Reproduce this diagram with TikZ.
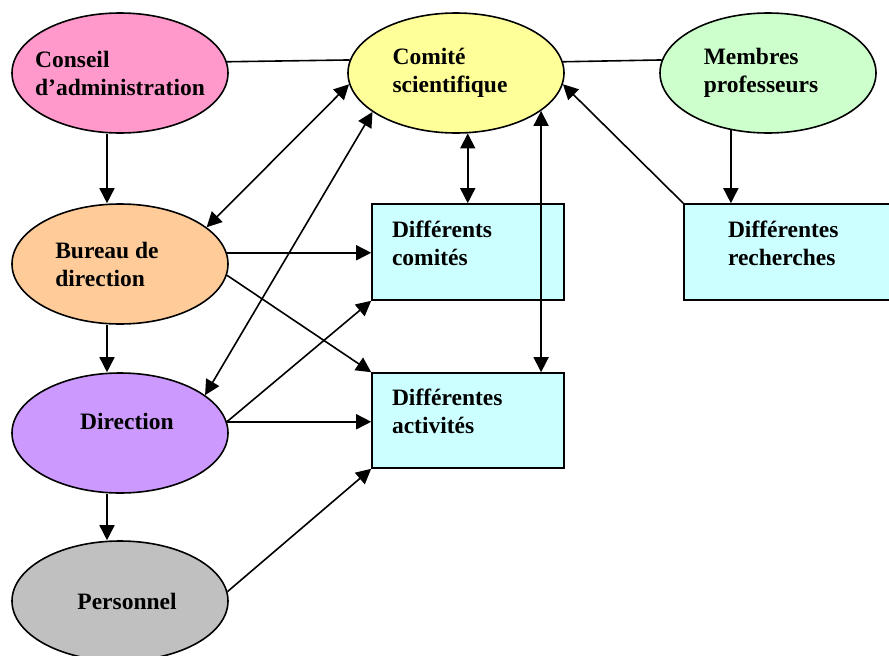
\documentclass[tikz,border=0pt]{standalone}
\usepackage{fontspec}
\setmainfont{Liberation Serif}
\usetikzlibrary{shapes.geometric,arrows.meta}

\definecolor{rose}{HTML}{FF99CC}
\definecolor{jaune}{HTML}{FFFF99}
\definecolor{vertclair}{HTML}{CCFFCC}
\definecolor{orange}{HTML}{FFCC99}
\definecolor{mauve}{HTML}{CC99FF}
\definecolor{gris}{HTML}{C0C0C0}
\definecolor{cyanclair}{HTML}{CCFFFF}

\begin{document}
\begin{tikzpicture}[x=1pt,y=-1pt,line width=1.6pt,>={Triangle[length=15pt,width=15pt]},
    font=\fontsize{23.5}{28}\selectfont\bfseries]
  \tikzstyle{organe}=[ellipse,draw=black,inner sep=-20pt,minimum width=216pt,minimum height=120pt,align=left]
  \tikzstyle{domaine}=[rectangle,draw=black,fill=cyanclair,inner xsep=20pt,text width=152pt,minimum height=96pt,align=left,text depth=46pt]
  \clip (0,0) rectangle (889,656);
  % organes
  \node [organe,fill=rose] (conseil) at (120,73) {Conseil\\d’administration};
  \node [organe,fill=jaune] (comite) at (456,73) {Comité\\scientifique\hspace*{12pt}};
  \node [organe,fill=vertclair] (membres) at (768,73) {Membres\\professeurs\hspace*{14pt}};
  \node [organe,fill=orange] (bureau) at (120,264) {Bureau de\hspace*{26pt}\\direction};
  \node [organe,fill=mauve,text depth=24pt] (direction) at (120,433) {\hspace*{14pt}Direction};
  \node [organe,fill=gris] (personnel) at (120,601) {\hspace*{14pt}Personnel};
  % domaines
  \node [domaine] (comites) at (468,252) {Différents\\comités};
  \node [domaine,inner xsep=44pt,text width=122pt] (recherches) at (789,252) {Différentes\\recherches};
  \node [domaine,minimum height=95pt] (activites) at (468,420.5) {Différentes\\activités};
  % liens
  \draw (conseil.6.5) -- (comite.173.5);
  \draw (comite.6.5) -- (membres.173.5);
  \draw[->] ([xshift=-13pt]conseil.south) -- ([xshift=-13pt]bureau.north);
  \draw[->] ([xshift=-13pt]bureau.south) -- ([xshift=-13pt]direction.north);
  \draw[->] ([xshift=-13pt]direction.south) -- ([xshift=-13pt]personnel.north);
  \draw[<->] (bureau.23) -- (comite.186);
  \draw[<->] (direction.24) -- (comite.205);
  \draw[->] (bureau.6.5) -- (bureau.6.5 -| comites.west);
  \draw[->] (bureau.-6.5) -- (activites.north west);
  \draw[->] (direction.6.5) -- (comites.south west);
  \draw[->] (direction.6.5) -- (direction.6.5 -| activites.west);
  \draw[->] (personnel.5) -- (activites.south west);
  \draw[<->] (comite.281) -- (comite.281 |- comites.north);
  \draw[<->] (comite.336) -- (comite.336 |- activites.north);
  \draw[->] (recherches.north west) -- (comite.-6);
  \draw[->] (membres.237.5) -- (membres.237.5 |- recherches.north);
\end{tikzpicture}
\end{document}
